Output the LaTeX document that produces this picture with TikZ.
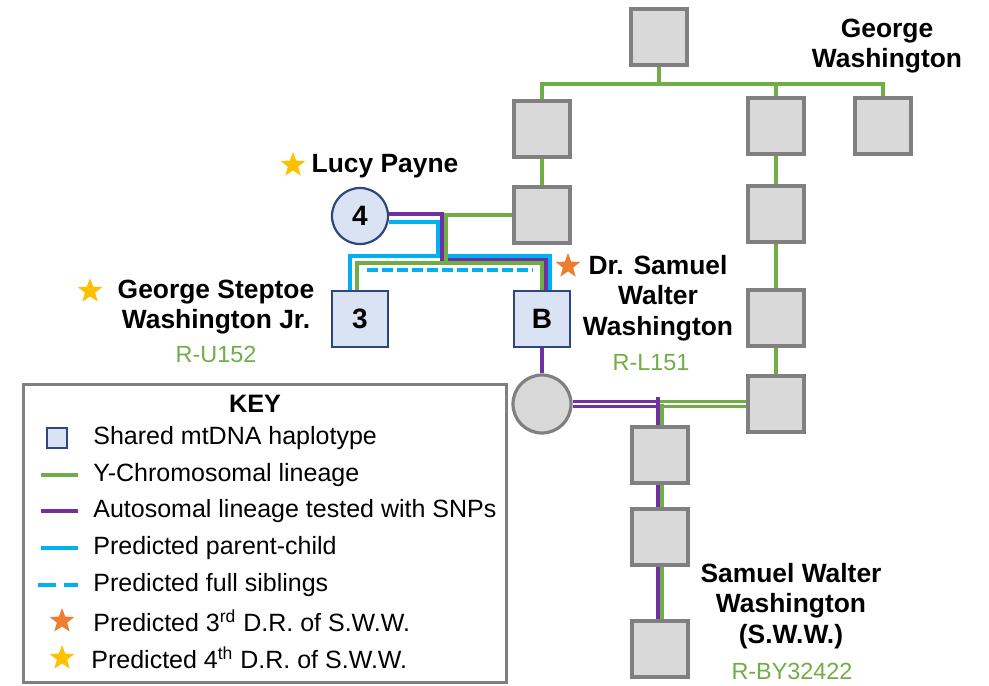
\documentclass[tikz,border=0pt]{standalone}
\usepackage{fontspec}
\setmainfont{Liberation Sans}
\usetikzlibrary{shapes.geometric,positioning}
\definecolor{ygreen}{RGB}{112,173,71}
\definecolor{apurple}{RGB}{112,48,160}
\definecolor{pcyan}{RGB}{0,176,240}
\definecolor{starthree}{RGB}{237,125,49}
\definecolor{starfour}{RGB}{255,192,0}
\definecolor{grayfill}{RGB}{217,217,217}
\definecolor{grayline}{RGB}{128,128,128}
\definecolor{mtfill}{RGB}{218,227,243}
\definecolor{mtline}{RGB}{47,70,125}

\tikzset{
  anc/.style={draw=grayline, fill=grayfill, line width=1.6pt, minimum size=28pt, inner sep=0pt},
  ancf/.style={anc, circle, minimum size=29pt},
  mtdna/.style={draw=mtline, fill=mtfill, line width=1.1pt, minimum size=28pt, inner sep=0pt, font=\bfseries\fontsize{14}{16}\selectfont},
  pname/.style={font=\bfseries\fontsize{13.2}{15.2}\selectfont, align=center, inner sep=0pt},
  haplo/.style={text=ygreen, font=\fontsize{11.7}{14}\selectfont, inner sep=0pt},
  keytext/.style={anchor=west, font=\fontsize{12.5}{14}\selectfont, inner sep=0pt},
  yline/.style={ygreen, line width=2pt},
  aline/.style={apurple, line width=2pt},
  pcline/.style={pcyan, line width=2pt},
  sibline/.style={pcyan, line width=2pt, dash pattern=on 5.5pt off 2pt},
  ylinethin/.style={ygreen, line width=1.6pt},
  alinethin/.style={apurple, line width=1.6pt},
  wedline/.style={line width=1.4pt, double=white, double distance=0.9pt},
  mstar/.style={star, star points=5, star point ratio=2.4, inner sep=0pt, minimum size=13pt},
}

\begin{document}
\begin{tikzpicture}[x=0.5pt, y=-0.5pt]
\useasboundingbox (0,0) rectangle (989,685);

% pedigree
\node[anc] (gw) at (659,37) {};
\node[anc] (c1) at (542,129) {};
\node[anc] (c2) at (776,126) {};
\node[anc] (c3) at (883,126) {};
\node[anc] (f1) at (542,215) {};
\node[anc] (m2) at (776,214) {};
\node[anc] (m3) at (776,318) {};
\node[anc] (m4) at (776,404) {};
\node[mtdna, circle] (lucy) at (360,216) {4};
\node[mtdna] (gsw) at (360,319) {3};
\node[mtdna] (drs) at (542,319) {B};
\node[ancf] (wife) at (542,404) {};
\node[anc] (s1) at (660,455) {};
\node[anc] (s2) at (660,537) {};
\node[anc] (sww) at (660,649) {};

\coordinate (gwbar) at (659,84);
\draw[yline] (gw.south) -- (gwbar);
\draw[yline] (c1.north) |- (gwbar) -| (c3.north);
\draw[yline] (gwbar -| c2.north) -- (c2.north);
\draw[yline] (c1) -- (f1);
\draw[yline] (c2) -- (m2);
\draw[yline] (m2) -- (m3);
\draw[yline] (m3) -- (m4);

% Lucy Payne family
\coordinate (cbar) at (550,256);
\draw[pcline] (lucy.-11) -| (438,256);
\draw[pcline] ([xshift=-5pt]gsw.north) |- (cbar) -- ([xshift=4pt]drs.north);
\draw[aline] (lucy.3) -| (442,259.5) -| ([xshift=2pt]drs.north);
\draw[yline] (f1.west) -| (446,263) -| ([xshift=-1.5pt]gsw.north);
\draw[yline] (446,263) -| (drs.north);
\draw[sibline] (367,270) -- (533,270);

\draw[aline] (drs) -- (wife);
\coordinate (wed) at (660,404);
\draw[wedline, apurple] (wife.east) -- (wed);
\draw[wedline, ygreen] (wed) -- (m4.west);
\draw[alinethin] (658,397) -- ([xshift=-1pt]s1.north);
\draw[ylinethin] (662,404) -- ([xshift=1pt]s1.north);
\draw[alinethin] ([xshift=-1pt]s1.south) -- ([xshift=-1pt]s2.north);
\draw[ylinethin] ([xshift=1pt]s1.south) -- ([xshift=1pt]s2.north);
\draw[alinethin] ([xshift=-1pt]s2.south) -- ([xshift=-1pt]sww.north);
\draw[ylinethin] ([xshift=1pt]s2.south) -- ([xshift=1pt]sww.north);

% names
\node[mstar, fill=starfour] (lucystar) at (293,165) {};
\node[pname] (lucyname) at (385,166) {Lucy Payne};
\node[mstar, fill=starfour] (gswstar) at (90,291) {};
\node[pname] (gswname) at (216,307) {George Steptoe\\Washington Jr.};
\node[haplo] (gswhap) at (216,354) {R-U152};
\node[mstar, fill=starthree] (drsstar) at (568,266) {};
\node[pname] (drsname) at (658,298) {Dr. Samuel\\Walter\\Washington};
\node[haplo] (drshap) at (651,363) {R-L151};
\node[pname] (gwname) at (887,46) {George\\Washington};
\node[pname] (swwname) at (791,606) {Samuel Walter\\Washington\\(S.W.W.)};
\node[haplo] (swwhap) at (792,671) {R-BY32422};

% key
\draw[grayline, line width=1.5pt] (23,384) rectangle (506,682);
\node[font=\bfseries\fontsize{12.6}{14}\selectfont] (keytitle) at (255,404) {KEY};
\node[draw=mtline, fill=mtfill, line width=1.1pt, minimum size=10pt, inner sep=0pt] (keysq) at (57,438) {};
\draw[yline] (41,475) -- (78,475);
\draw[aline] (41,511) -- (78,511);
\draw[pcline] (41,548) -- (78,548);
\draw[pcline, dash pattern=on 9pt off 4pt] (38,585) -- (78,585);
\node[mstar, fill=starthree] (keythree) at (62,621) {};
\node[mstar, fill=starfour] (keyfour) at (62,658) {};
\node[keytext] at (93,438) {Shared mtDNA haplotype};
\node[keytext] at (93,475) {Y-Chromosomal lineage};
\node[keytext] at (93,511) {Autosomal lineage tested with SNPs};
\node[keytext] at (93,548) {Predicted parent-child};
\node[keytext] at (93,585) {Predicted full siblings};
\node[keytext] at (93,621) {Predicted 3\textsuperscript{rd} D.R. of S.W.W.};
\node[keytext] at (91,658) {Predicted 4\textsuperscript{th} D.R. of S.W.W.};
\end{tikzpicture}
\end{document}
